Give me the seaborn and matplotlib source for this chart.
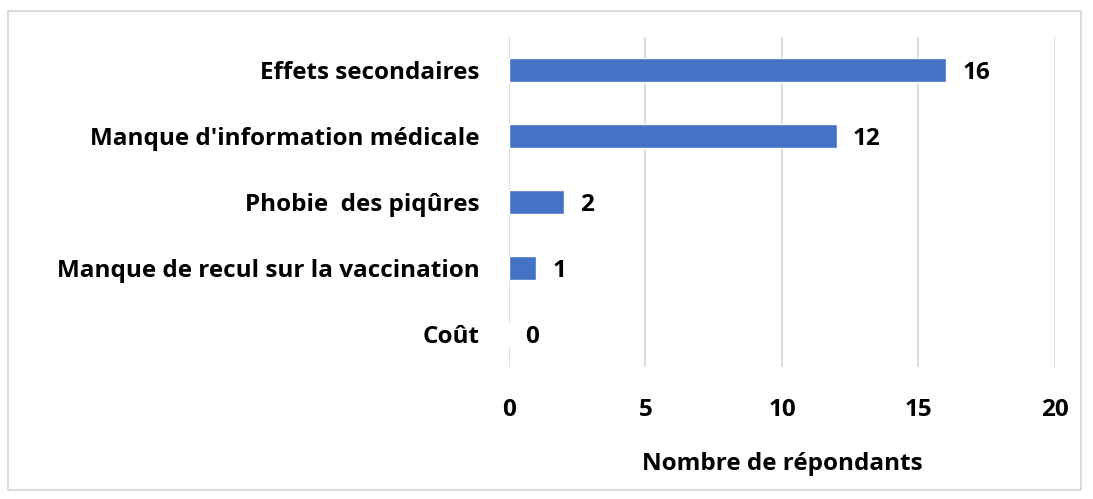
import matplotlib
matplotlib.use("Agg")
import matplotlib.pyplot as plt
import seaborn as sns
import pandas as pd
from matplotlib.patches import Rectangle

# ==================== 数据 ====================
categories = [
    "Effets secondaires",
    "Manque d'information médicale",
    "Phobie  des piqûres",
    "Manque de recul sur la vaccination",
    "Coût",
]
counts = [16, 12, 2, 1, 0]
x_ticks = [0, 5, 10, 15, 20]

df = pd.DataFrame({"cause": categories, "n": counts})

sns.set_theme(style="white")
plt.rcParams['font.family'] = ['Open Sans', 'DejaVu Sans']
plt.rcParams['font.weight'] = 'bold'
plt.rcParams['text.color'] = 'black'
plt.rcParams['xtick.color'] = 'black'
plt.rcParams['ytick.color'] = 'black'
plt.rcParams['axes.labelcolor'] = 'black'

FS = 17.5

fig = plt.figure(figsize=(10.93, 4.99), dpi=100)
ax = fig.add_axes([0.4657, 0.2645, 0.4995, 0.6614])

sns.barplot(data=df, x="n", y="cause", color="#4472C4", width=0.36,
            saturation=1, ax=ax, zorder=3)

ax.set_xlim(0, 20)
ax.set_ylim(4.5, -0.5)
ax.set_xticks(x_ticks)
ax.grid(axis="x", color="#D9D9D9", linewidth=1.3, zorder=0)
ax.grid(axis="y", visible=False)
for s in ax.spines.values():
    s.set_visible(False)
ax.tick_params(axis="both", length=0, labelsize=FS)
ax.tick_params(axis="y", pad=21)
ax.tick_params(axis="x", pad=22)
for lab in ax.get_xticklabels() + ax.get_yticklabels():
    lab.set_fontweight("bold")
ax.set_ylabel("")
ax.set_xlabel("Nombre de répondants", fontsize=FS, fontweight="bold", labelpad=22)

for i, v in enumerate(counts):
    ax.text(v + 0.6, i + 0.04, str(v), va="center", ha="left", fontsize=FS, fontweight="bold")

# 外框
fig.patches.append(Rectangle((8 / 1093, 1 - 490 / 499), 1073 / 1093, 479 / 499,
                             transform=fig.transFigure, fill=False,
                             edgecolor="#D9D9D9", linewidth=1.3))

fig.savefig("out.png", dpi=100)
plt.close()
